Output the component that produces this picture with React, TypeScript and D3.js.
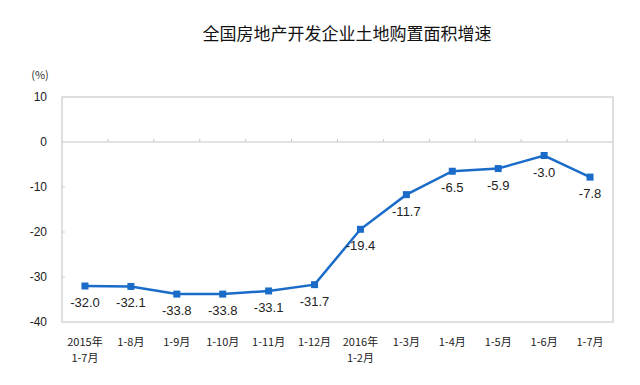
import React, { useRef, useEffect } from 'react';
import * as d3 from 'd3';

const title = '全国房地产开发企业土地购置面积增速';
const categories = ['2015年|1-7月', '1-8月', '1-9月', '1-10月', '1-11月', '1-12月', '2016年|1-2月', '1-3月', '1-4月', '1-5月', '1-6月', '1-7月'];
const values = [-32.0, -32.1, -33.8, -33.8, -33.1, -31.7, -19.4, -11.7, -6.5, -5.9, -3.0, -7.8];
const yTicks = [10, 0, -10, -20, -30, -40];

const App: React.FC = () => {
  const svgRef = useRef<SVGSVGElement | null>(null);

  useEffect(() => {
    const width = 640;
    const height = 385;
    const left = 62, right = 613, top = 97, bottom = 322;
    const blue = '#1a6cc8';
    const cjk = '"Noto Sans CJK SC", "Liberation Sans", sans-serif';

    const svg = d3.select(svgRef.current!)
      .attr('width', width)
      .attr('height', height);
    svg.selectAll('*').remove();

    const x = d3.scaleBand<string>().domain(categories).range([left, right]);
    const y = d3.scaleLinear().domain([-40, 10]).range([bottom, top]);
    const cx = (i: number) => x(categories[i])! + x.bandwidth() / 2;

    svg.append('text')
      .attr('x', 347).attr('y', 40)
      .attr('text-anchor', 'middle')
      .attr('font-family', cjk)
      .attr('font-size', 17)
      .attr('fill', '#111')
      .text(title);

    svg.append('text')
      .attr('x', 40).attr('y', 79)
      .attr('text-anchor', 'middle')
      .attr('font-family', cjk)
      .attr('font-size', 11)
      .attr('fill', '#333')
      .text('(%)');

    // plot frame
    svg.append('rect')
      .attr('x', left).attr('y', top)
      .attr('width', right - left).attr('height', bottom - top)
      .attr('fill', 'none')
      .attr('stroke', '#d4d4d4')
      .attr('stroke-width', 1.5);

    // zero line with category ticks
    svg.append('line')
      .attr('x1', left).attr('x2', right)
      .attr('y1', y(0)).attr('y2', y(0))
      .attr('stroke', '#c8c8c8').attr('stroke-width', 1.2);
    svg.selectAll('.xtick')
      .data(categories.slice(1))
      .enter()
      .append('line')
      .attr('x1', (d) => x(d)!).attr('x2', (d) => x(d)!)
      .attr('y1', y(0) - 3).attr('y2', y(0))
      .attr('stroke', '#c8c8c8');

    svg.selectAll('.ytick')
      .data(yTicks.slice(1, -1).filter((v) => v !== 0))
      .enter()
      .append('line')
      .attr('x1', left).attr('x2', left + 3)
      .attr('y1', (d) => y(d)).attr('y2', (d) => y(d))
      .attr('stroke', '#d0d0d0');

    svg.selectAll('.ylabel')
      .data(yTicks)
      .enter()
      .append('text')
      .attr('x', 47)
      .attr('y', (d) => y(d) + 4)
      .attr('text-anchor', 'end')
      .attr('font-family', '"Liberation Sans Narrow", "Liberation Sans", sans-serif')
      .attr('font-size', 12)
      .attr('fill', '#222')
      .text((d) => String(d));

    // x labels
    const xl = svg.selectAll('.xlabel')
      .data(categories)
      .enter()
      .append('text')
      .attr('text-anchor', 'middle')
      .attr('font-family', cjk)
      .attr('font-size', 11)
      .attr('fill', '#222');
    xl.each(function (d) {
      const parts = d.split('|');
      const t = d3.select(this);
      parts.forEach((p, j) => {
        t.append('tspan')
          .attr('x', x(d)! + x.bandwidth() / 2)
          .attr('y', 346 + j * 16)
          .text(p);
      });
    });

    const line = d3.line<number>()
      .x((_, i) => cx(i))
      .y((d) => y(d));

    svg.append('path')
      .datum(values)
      .attr('d', line)
      .attr('fill', 'none')
      .attr('stroke', blue)
      .attr('stroke-width', 2.5);

    svg.selectAll('.marker')
      .data(values)
      .enter()
      .append('rect')
      .attr('x', (_, i) => cx(i) - 3.5)
      .attr('y', (d) => y(d) - 3.5)
      .attr('width', 7).attr('height', 7)
      .attr('fill', blue);

    svg.selectAll('.vlabel')
      .data(values)
      .enter()
      .append('text')
      .attr('x', (_, i) => cx(i))
      .attr('y', (d) => y(d) + 21)
      .attr('text-anchor', 'middle')
      .attr('font-family', '"Liberation Sans", Arial, sans-serif')
      .attr('font-size', 13)
      .attr('fill', '#222')
      .text((d) => d.toFixed(1));
  }, []);

  return <svg ref={svgRef} style={{ position: 'absolute', left: 0, top: 0 }}></svg>;
};

export default App;
